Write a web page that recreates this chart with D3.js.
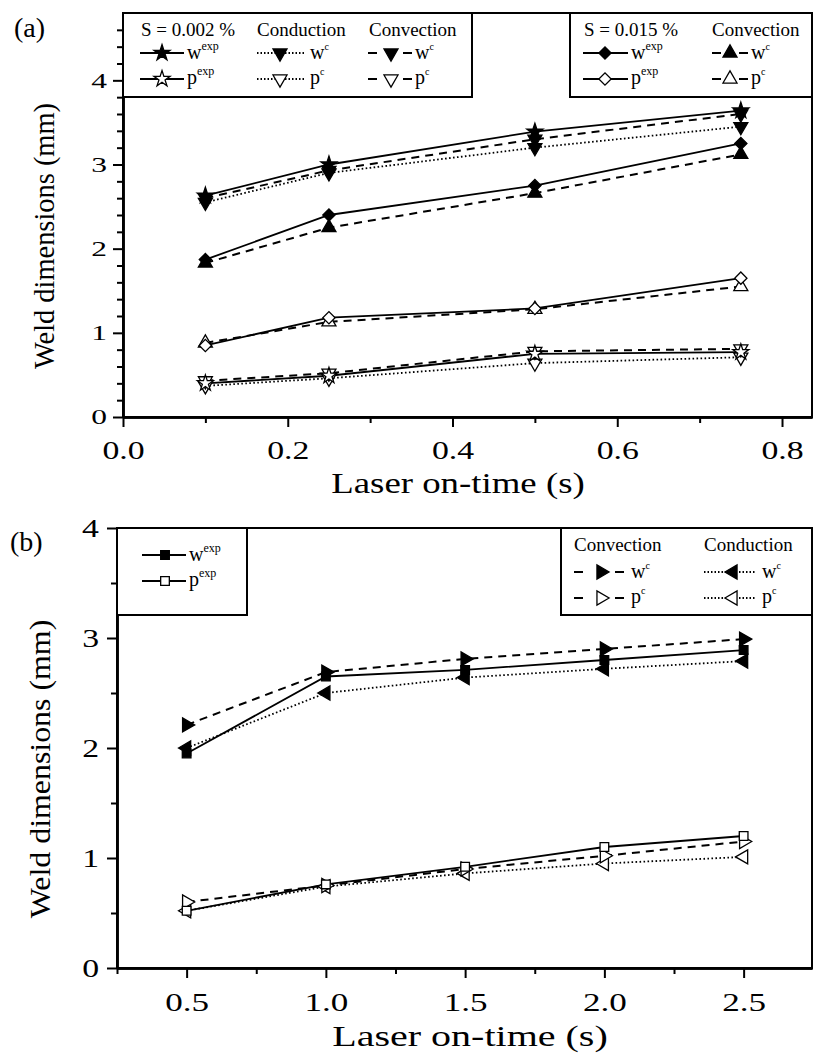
<!DOCTYPE html>
<meta charset="utf-8">
<head>
    <title>Weld dimensions vs laser on-time</title>
    <script src="https://cdn.jsdelivr.net/npm/d3@7"></script>
    <style>
        body { margin: 0; background: #fff; }
        text { font-family: "Liberation Serif", "Times New Roman", serif; fill: #000; }
        .axis path, .axis line { stroke: #000; stroke-width: 2; }
        .axis path { stroke-width: 2.5; }
        .fit { transform-box: fill-box; }
    </style>
</head>
<body>
<div id="chart"></div>
<script>
    // ---------- panel (a): laser on-time (s) vs weld dimensions (mm)
    const timeA = [0.1, 0.25, 0.5, 0.75];
    // S = 0.002 %
    const wExpLow = [2.63, 3.0, 3.39, 3.64];
    const wCondLow = [2.55, 2.9, 3.2, 3.45];
    const wConvLow = [2.6, 2.93, 3.3, 3.6];
    const pExpLow = [0.4, 0.49, 0.75, 0.77];
    const pCondLow = [0.37, 0.46, 0.64, 0.71];
    const pConvLow = [0.43, 0.52, 0.78, 0.81];
    // S = 0.015 %
    const wExpHigh = [1.87, 2.4, 2.75, 3.25];
    const wConvHigh = [1.83, 2.25, 2.66, 3.12];
    const pExpHigh = [0.85, 1.18, 1.29, 1.65];
    const pConvHigh = [0.88, 1.13, 1.28, 1.55];

    // ---------- panel (b)
    const timeB = [0.5, 1.0, 1.5, 2.0, 2.5];
    const wExpB = [1.95, 2.65, 2.71, 2.8, 2.89];
    const wConvB = [2.21, 2.69, 2.81, 2.9, 2.99];
    const wCondB = [2.0, 2.5, 2.64, 2.72, 2.79];
    const pExpB = [0.52, 0.76, 0.92, 1.1, 1.2];
    const pConvB = [0.6, 0.75, 0.9, 1.02, 1.15];
    const pCondB = [0.52, 0.74, 0.86, 0.95, 1.01];

    // ticks
    const xTicksA = [0, 0.2, 0.4, 0.6, 0.8];
    const xMinorA = [0.1, 0.3, 0.5, 0.7];
    const yTicksA = [0, 1, 2, 3, 4];
    const yMinorA = [0.2, 0.4, 0.6, 0.8, 1.2, 1.4, 1.6, 1.8, 2.2, 2.4, 2.6, 2.8, 3.2, 3.4, 3.6, 3.8, 4.2, 4.4, 4.6];
    const xTicksB = [0.5, 1.0, 1.5, 2.0, 2.5];
    const xMinorB = [0.25, 0.75, 1.25, 1.75, 2.25];
    const yTicksB = [0, 1, 2, 3, 4];
    const yMinorB = [0.5, 1.5, 2.5, 3.5];

    const markers = {
        star: { type: d3.symbolStar, size: 80, rot: 0 },
        down: { type: d3.symbolTriangle, size: 85, rot: 180 },
        up: { type: d3.symbolTriangle, size: 85, rot: 0 },
        diamond: { type: d3.symbolSquare, size: 75, rot: 45 },
        square: { type: d3.symbolSquare, size: 75, rot: 0 },
        right: { type: d3.symbolTriangle, size: 85, rot: 90 },
        left: { type: d3.symbolTriangle, size: 85, rot: -90 }
    };
    const dashes = { solid: null, dashed: "8,6", dotted: "1.6,2.4" };

    const seriesA = [
        { y: pCondLow, line: "dotted", mark: "down", filled: false },
        { y: pConvLow, line: "dashed", mark: "down", filled: false },
        { y: pExpLow, line: "solid", mark: "star", filled: false },
        { y: pConvHigh, line: "dashed", mark: "up", filled: false },
        { y: pExpHigh, line: "solid", mark: "diamond", filled: false },
        { y: wConvHigh, line: "dashed", mark: "up", filled: true },
        { y: wExpHigh, line: "solid", mark: "diamond", filled: true },
        { y: wCondLow, line: "dotted", mark: "down", filled: true },
        { y: wConvLow, line: "dashed", mark: "down", filled: true },
        { y: wExpLow, line: "solid", mark: "star", filled: true }
    ];
    const seriesB = [
        { y: pCondB, line: "dotted", mark: "left", filled: false },
        { y: pConvB, line: "dashed", mark: "right", filled: false },
        { y: pExpB, line: "solid", mark: "square", filled: false },
        { y: wCondB, line: "dotted", mark: "left", filled: true },
        { y: wConvB, line: "dashed", mark: "right", filled: true },
        { y: wExpB, line: "solid", mark: "square", filled: true }
    ];

    const svg = d3.select("#chart").append("svg")
        .attr("width", 813).attr("height", 1056);

    function stretch(sel, s, origin) {
        sel.classed("fit", true)
            .style("transform-origin", origin || "center")
            .style("transform", "scaleX(" + s + ")");
    }

    function symbolAt(g, cx, cy, mark, filled) {
        const m = markers[mark];
        g.append("path")
            .attr("d", d3.symbol().type(m.type).size(m.size)())
            .attr("transform", "translate(" + cx + "," + cy + ") rotate(" + m.rot + ")")
            .attr("fill", filled ? "#000" : "#fff")
            .attr("stroke", "#000")
            .attr("stroke-width", 1.3);
    }

    function drawPanel(cfg) {
        const x = d3.scaleLinear().domain(cfg.xDomain).range([cfg.left, cfg.right]);
        const y = d3.scaleLinear().domain(cfg.yDomain).range([cfg.bottom, cfg.top]);
        const g = svg.append("g");

        g.append("rect")
            .attr("x", cfg.left).attr("y", cfg.top)
            .attr("width", cfg.right - cfg.left).attr("height", cfg.bottom - cfg.top)
            .attr("fill", "none").attr("stroke", "#000").attr("stroke-width", 2);

        // minor ticks
        g.append("g").attr("class", "axis")
            .attr("transform", "translate(0," + cfg.bottom + ")")
            .call(d3.axisBottom(x).tickValues(cfg.xMinor).tickSize(6).tickSizeOuter(0).tickFormat(""));
        g.append("g").attr("class", "axis")
            .attr("transform", "translate(" + cfg.left + ",0)")
            .call(d3.axisLeft(y).tickValues(cfg.yMinor).tickSize(6).tickSizeOuter(0).tickFormat(""));

        // major ticks
        const xa = g.append("g").attr("class", "axis")
            .attr("transform", "translate(0," + cfg.bottom + ")")
            .call(d3.axisBottom(x).tickValues(cfg.xTicks).tickSize(10).tickSizeOuter(0)
                .tickFormat(d3.format(".1f")).tickPadding(cfg.xPad));
        xa.selectAll("text").attr("font-size", cfg.xFont).attr("font-family", null);
        stretch(xa.selectAll("text"), cfg.xStretch);

        const ya = g.append("g").attr("class", "axis")
            .attr("transform", "translate(" + cfg.left + ",0)")
            .call(d3.axisLeft(y).tickValues(cfg.yTicks).tickSize(10).tickSizeOuter(0)
                .tickFormat(d3.format("d")).tickPadding(cfg.yPad));
        ya.selectAll("text").attr("font-size", cfg.yFont).attr("font-family", null);
        stretch(ya.selectAll("text"), cfg.yStretch, "right");

        // series
        const line = d3.line().x(d => x(d[0])).y(d => y(d[1]));
        cfg.series.forEach(s => {
            const pts = cfg.time.map((t, i) => [t, s.y[i]]);
            g.append("path")
                .attr("d", line(pts))
                .attr("fill", "none")
                .attr("stroke", "#000")
                .attr("stroke-width", s.line === "dashed" ? 2 : 1.8)
                .attr("stroke-dasharray", dashes[s.line]);
        });
        cfg.series.forEach(s => {
            cfg.time.forEach((t, i) => symbolAt(g, x(t), y(s.y[i]), s.mark, s.filled));
        });

        // axis titles
        const xt = g.append("text")
            .attr("x", cfg.xTitle[0]).attr("y", cfg.xTitle[1])
            .attr("text-anchor", "middle").attr("font-size", 29)
            .text("Laser on-time (s)");
        stretch(xt, cfg.xTitle[2]);

        const yg = g.append("g")
            .attr("transform", "translate(" + cfg.yTitle[0] + "," + cfg.yTitle[1] + ") rotate(-90)");
        const yt = yg.append("text")
            .attr("text-anchor", "middle").attr("dy", "0.35em").attr("font-size", 29)
            .text("Weld dimensions (mm)");
        stretch(yt, cfg.yTitle[2]);

        g.append("text").attr("x", cfg.tag[0]).attr("y", cfg.tag[1])
            .attr("font-size", 28).text(cfg.tag[2]);

        return g;
    }

    // ---------- legend helpers
    function legendBox(g, x0, y0, x1, y1) {
        g.append("rect").attr("x", x0).attr("y", y0)
            .attr("width", x1 - x0).attr("height", y1 - y0)
            .attr("fill", "#fff").attr("stroke", "#000").attr("stroke-width", 2);
    }
    function legendSample(g, x0, x1, yc, mx, line, mark, filled) {
        const l = g.append("line").attr("x1", x0).attr("x2", x1).attr("y1", yc).attr("y2", yc)
            .attr("stroke", "#000").attr("stroke-width", 1.8);
        if (line === "dotted") l.attr("stroke-dasharray", "1.5,2");
        if (line === "dashed") l.attr("stroke-dasharray", "9," + (x1 - x0 - 18));
        symbolAt(g, mx, yc, mark, filled);
    }
    function legendLabel(g, x, y, base, sup) {
        const t = g.append("text").attr("x", x).attr("y", y).attr("font-size", 20);
        t.append("tspan").text(base);
        t.append("tspan").attr("dy", -9).attr("font-size", sup === "exp" ? 12 : 10).text(sup);
    }
    function header(g, x, y, txt) {
        g.append("text").attr("x", x).attr("y", y).attr("font-size", 19).text(txt);
    }

    // ---------- panel (a)
    const gA = drawPanel({
        left: 123, right: 812, top: 13, bottom: 417,
        xDomain: [0, 0.8364], yDomain: [0, 4.8],
        xTicks: xTicksA, xMinor: xMinorA, yTicks: yTicksA, yMinor: yMinorA,
        xFont: 25, xStretch: 1.35, xPad: 14, yFont: 21, yStretch: 1.5, yPad: 6,
        time: timeA, series: seriesA,
        xTitle: [458, 493, 1.27], yTitle: [44, 236, 0.98], tag: [14, 37, "(a)"]
    });
    legendBox(gA, 123, 13, 472, 97);
    header(gA, 141, 36, "S = 0.002 %");
    header(gA, 257, 36, "Conduction");
    header(gA, 369, 36, "Convection");
    legendSample(gA, 140, 184, 53, 162, "solid", "star", true);
    legendLabel(gA, 187, 59, "w", "exp");
    legendSample(gA, 140, 184, 79, 162, "solid", "star", false);
    legendLabel(gA, 187, 84, "p", "exp");
    legendSample(gA, 257, 306, 53, 280, "dotted", "down", true);
    legendLabel(gA, 310, 59, "w", "c");
    legendSample(gA, 257, 306, 79, 280, "dotted", "down", false);
    legendLabel(gA, 310, 84, "p", "c");
    legendSample(gA, 368, 412, 53, 391, "dashed", "down", true);
    legendLabel(gA, 415, 59, "w", "c");
    legendSample(gA, 368, 412, 79, 391, "dashed", "down", false);
    legendLabel(gA, 415, 84, "p", "c");

    legendBox(gA, 570, 13, 812, 97);
    header(gA, 584, 36, "S = 0.015 %");
    header(gA, 712, 36, "Convection");
    legendSample(gA, 583, 628, 53, 605, "solid", "diamond", true);
    legendLabel(gA, 631, 59, "w", "exp");
    legendSample(gA, 583, 628, 79, 605, "solid", "diamond", false);
    legendLabel(gA, 631, 84, "p", "exp");
    legendSample(gA, 712, 748, 53, 730, "dashed", "up", true);
    legendLabel(gA, 751, 59, "w", "c");
    legendSample(gA, 712, 748, 79, 730, "dashed", "up", false);
    legendLabel(gA, 751, 84, "p", "c");

    // ---------- panel (b)
    const gB = drawPanel({
        left: 117, right: 812, top: 528, bottom: 968,
        xDomain: [0.25, 2.7455], yDomain: [0, 4],
        xTicks: xTicksB, xMinor: xMinorB, yTicks: yTicksB, yMinor: yMinorB,
        xFont: 26, xStretch: 1.35, xPad: 15, yFont: 25, yStretch: 1.35, yPad: 8,
        time: timeB, series: seriesB,
        xTitle: [470, 1046, 1.38], yTitle: [40, 769, 1.1], tag: [10, 551, "(b)"]
    });
    legendBox(gB, 117, 528, 247, 615);
    legendSample(gB, 142, 186, 555, 165, "solid", "square", true);
    legendLabel(gB, 189, 561, "w", "exp");
    legendSample(gB, 142, 186, 581, 165, "solid", "square", false);
    legendLabel(gB, 189, 586, "p", "exp");

    legendBox(gB, 561, 528, 812, 615);
    header(gB, 574, 551, "Convection");
    header(gB, 704, 551, "Conduction");
    legendSample(gB, 574, 624, 572, 601, "dashed", "right", true);
    legendLabel(gB, 631, 578, "w", "c");
    legendSample(gB, 574, 624, 598, 601, "dashed", "right", false);
    legendLabel(gB, 631, 603, "p", "c");
    legendSample(gB, 704, 756, 572, 733, "dotted", "left", true);
    legendLabel(gB, 762, 578, "w", "c");
    legendSample(gB, 704, 756, 598, 733, "dotted", "left", false);
    legendLabel(gB, 762, 603, "p", "c");
</script>
</body>
</html>
